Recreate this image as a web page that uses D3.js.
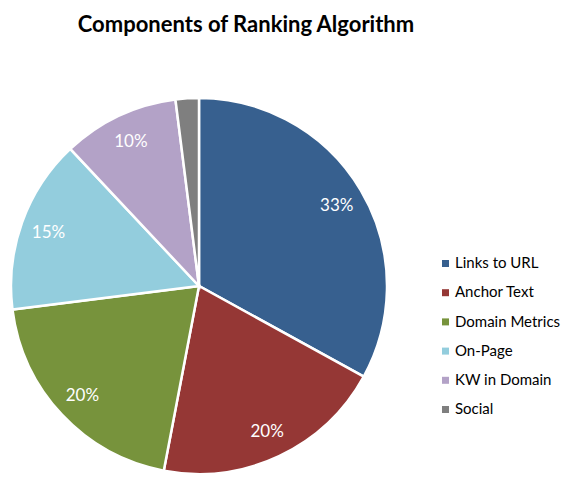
<!DOCTYPE html>
<html>
<head>
<meta charset="utf-8">
<script src="https://cdn.jsdelivr.net/npm/d3@7"></script>
<style>
  body { margin: 0; background: #fff; }
  svg { display: block; font-family: Lato, "Open Sans", sans-serif; }
</style>
</head>
<body>
<svg id="chart"></svg>
<script>
const categories = ["Links to URL", "Anchor Text", "Domain Metrics", "On-Page", "KW in Domain", "Social"];
const shares = [33, 20, 20, 15, 10, 2];
const colors = ["#37608f", "#953735", "#77933c", "#93cddd", "#b3a2c7", "#7f7f7f"];

const width = 576, height = 482;
const cx = 199, cy = 286, radius = 188;

const svg = d3.select("#chart").attr("width", width).attr("height", height);

svg.append("text")
  .attr("x", 246)
  .attr("y", 32)
  .attr("text-anchor", "middle")
  .style("font-size", "22px")
  .style("font-weight", "bold")
  .text("Components of Ranking Algorithm");

const pie = d3.pie().value((d) => d).sort(null);
const arcs = pie(shares);
const arc = d3.arc().innerRadius(0).outerRadius(radius);
const labelArc = d3.arc().innerRadius(160).outerRadius(160);

const g = svg.append("g").attr("transform", `translate(${cx},${cy})`);

g.selectAll(".slice")
  .data(arcs)
  .join("path")
  .classed("slice", true)
  .attr("d", arc)
  .attr("fill", (d, i) => colors[i])
  .attr("stroke", "#fff")
  .attr("stroke-width", 2.5);

g.selectAll(".slice-label")
  .data(arcs.filter((d) => d.data >= 5))
  .join("text")
  .classed("slice-label", true)
  .attr("transform", (d) => `translate(${labelArc.centroid(d)})`)
  .attr("text-anchor", "middle")
  .attr("dy", "0.35em")
  .attr("fill", "#fff")
  .style("font-size", "17px")
  .text((d) => d.data + "%");

const legendY = d3.scalePoint().domain(categories).range([263, 409]);

const legend = svg.append("g");
legend.selectAll("rect")
  .data(categories)
  .join("rect")
  .attr("x", 442)
  .attr("y", (d) => legendY(d) - 3)
  .attr("width", 7)
  .attr("height", 7)
  .attr("fill", (d, i) => colors[i]);

legend.selectAll("text")
  .data(categories)
  .join("text")
  .attr("x", 455)
  .attr("y", (d) => legendY(d))
  .attr("dy", "0.35em")
  .style("font-size", "15px")
  .text((d) => d);
</script>
</body>
</html>
